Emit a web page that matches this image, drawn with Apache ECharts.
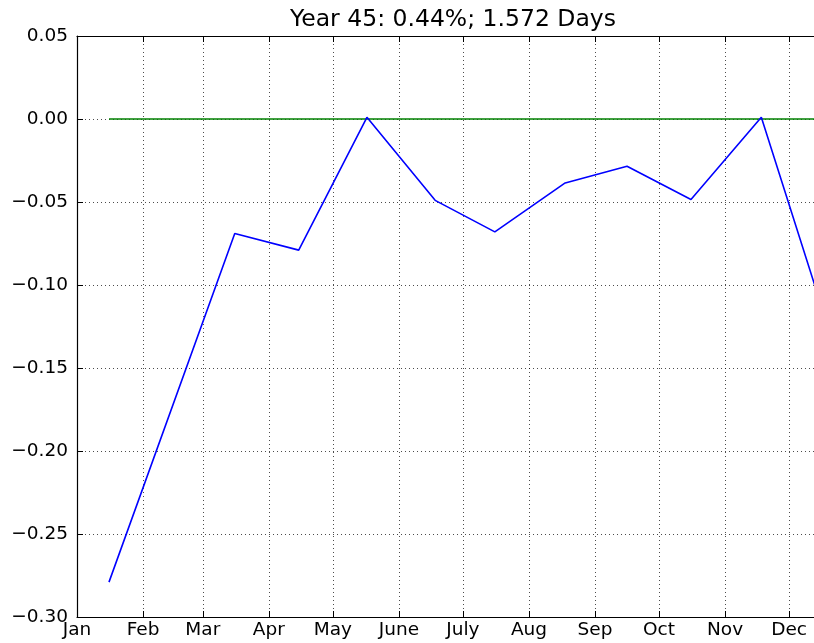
<!DOCTYPE html>
<html>
<head>
<meta charset="utf-8">
<script src="https://cdn.jsdelivr.net/npm/echarts@6/dist/echarts.min.js"></script>
<style>
  html, body { margin: 0; padding: 0; background: #fff; }
  #main { width: 814px; height: 643px; }
</style>
</head>
<body>
<div id="main"></div>
<script>
var titleText = 'Year 45: 0.44%; 1.572 Days';

// month tick labels (matplotlib style names)
var monthLabels = ['Jan', 'Feb', 'Mar', 'Apr', 'May', 'June', 'July', 'Aug', 'Sep', 'Oct', 'Nov', 'Dec'];
var monthStarts = ['2015-01-01', '2015-02-01', '2015-03-01', '2015-04-01', '2015-05-01', '2015-06-01',
  '2015-07-01', '2015-08-01', '2015-09-01', '2015-10-01', '2015-11-01', '2015-12-01'];

// blue series
var pointDates = ['2015-01-16', '2015-03-16', '2015-04-15', '2015-05-17', '2015-06-18', '2015-07-16',
  '2015-08-18', '2015-09-16', '2015-10-16', '2015-11-18', '2015-12-18'];
var pointValues = [-0.279, -0.069, -0.079, 0.001, -0.049, -0.068, -0.0385, -0.0285, -0.0485, 0.001, -0.12];

// green reference line at zero
var zeroDates = ['2015-01-16', '2015-12-18'];
var zeroValues = [0, 0];

var xMin = '2015-01-01';
var xMax = '2015-12-12 17:00';
var yTicks = { min: -0.30, max: 0.05, interval: 0.05 };

function toTime(s) {
  var p = s.split(/[- :]/).map(Number);
  return Date.UTC(p[0], p[1] - 1, p[2], p[3] || 0, p[4] || 0);
}

var tickTimes = monthStarts.map(toTime);
var font = 'DejaVu Sans';

var chart = echarts.init(document.getElementById('main'), null, { renderer: 'canvas' });

var xCommon = {
  type: 'value',
  min: toTime(xMin),
  max: toTime(xMax),
  scale: true
};

var option = {
  animation: false,
  backgroundColor: '#fff',
  title: {
    text: titleText,
    left: 448,
    textAlign: 'center',
    top: 3,
    textStyle: { fontFamily: font, fontSize: 23.5, fontWeight: 'normal', color: '#000' }
  },
  grid: { left: 77, right: 0, top: 36, bottom: 26 },
  xAxis: [Object.assign({}, xCommon, {
    position: 'bottom',
    axisLine: { show: true, onZero: false, lineStyle: { color: '#000', width: 1.2 } },
    axisTick: { show: true, inside: true, length: 6, customValues: tickTimes, lineStyle: { color: '#000' } },
    axisLabel: {
      customValues: tickTimes,
      margin: 4,
      fontFamily: font,
      fontSize: 18.5,
      color: '#000',
      formatter: function (v) { return monthLabels[new Date(v).getUTCMonth()]; }
    },
    splitLine: { show: true, lineStyle: { color: '#000', width: 1, type: [1, 3], opacity: 0.7 } }
  }), Object.assign({}, xCommon, {
    position: 'top',
    axisLine: { show: true, onZero: false, lineStyle: { color: '#000', width: 1.2 } },
    axisTick: { show: true, inside: true, length: 6, customValues: tickTimes, lineStyle: { color: '#000' } },
    axisLabel: { show: false },
    splitLine: { show: false }
  })],
  yAxis: {
    type: 'value',
    min: yTicks.min,
    max: yTicks.max,
    interval: yTicks.interval,
    axisLine: { show: true, onZero: false, lineStyle: { color: '#000', width: 1.2 } },
    axisTick: { show: true, inside: true, length: 6, lineStyle: { color: '#000' } },
    axisLabel: {
      margin: 9,
      fontFamily: font,
      fontSize: 18.5,
      color: '#000',
      formatter: function (v) {
        if (Math.abs(v) < 1e-9) return '0.00';
        return (v < 0 ? '\u2212' : '') + Math.abs(v).toFixed(2);
      }
    },
    splitLine: { show: true, lineStyle: { color: '#000', width: 1, type: [1, 3], opacity: 0.7 } }
  },
  series: [{
    type: 'line',
    data: zeroDates.map(function (d, i) { return [toTime(d), zeroValues[i]]; }),
    symbol: 'none',
    lineStyle: { color: '#008000', width: 1.5 },
    clip: true
  }, {
    type: 'line',
    data: pointDates.map(function (d, i) { return [toTime(d), pointValues[i]]; }),
    symbol: 'none',
    lineStyle: { color: '#0000ff', width: 1.6 },
    clip: true
  }]
};

chart.setOption(option);
</script>
</body>
</html>
